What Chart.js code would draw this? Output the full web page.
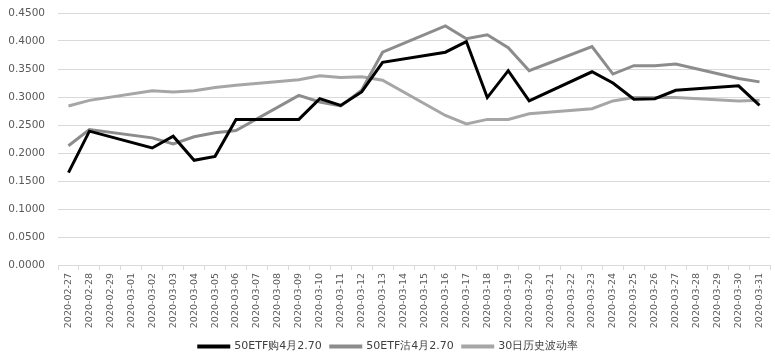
<!DOCTYPE html>
<html>
<head>
<meta charset="utf-8">
<script src="https://cdn.jsdelivr.net/npm/chart.js@4/dist/chart.umd.min.js"></script>
<style>
  html, body { margin: 0; padding: 0; background: #fff; }
  canvas { display: block; }
</style>
</head>
<body>
<canvas id="grafico" width="775" height="362"></canvas>
<script>
// Fechas (días naturales; fines de semana sin dato)
const fechas = [
    '2020-02-27', '2020-02-28', '2020-02-29', '2020-03-01', '2020-03-02', '2020-03-03',
    '2020-03-04', '2020-03-05', '2020-03-06', '2020-03-07', '2020-03-08', '2020-03-09',
    '2020-03-10', '2020-03-11', '2020-03-12', '2020-03-13', '2020-03-14', '2020-03-15',
    '2020-03-16', '2020-03-17', '2020-03-18', '2020-03-19', '2020-03-20', '2020-03-21',
    '2020-03-22', '2020-03-23', '2020-03-24', '2020-03-25', '2020-03-26', '2020-03-27',
    '2020-03-28', '2020-03-29', '2020-03-30', '2020-03-31'
];

// 50ETF购4月2.70
const compra = [
    0.165, 0.239, null, null, 0.209, 0.230, 0.187, 0.194, 0.260, null, null, 0.260,
    0.297, 0.285, 0.309, 0.362, null, null, 0.380, 0.399, 0.299, 0.347, 0.293, null,
    null, 0.345, 0.325, 0.296, 0.297, 0.312, null, null, 0.320, 0.285
];

// 50ETF沽4月2.70
const venta = [
    0.213, 0.242, null, null, 0.227, 0.216, 0.229, 0.236, 0.240, null, null, 0.303,
    0.291, 0.284, 0.312, 0.380, null, null, 0.427, 0.404, 0.411, 0.388, 0.347, null,
    null, 0.390, 0.341, 0.356, 0.356, 0.359, null, null, 0.333, 0.327
];

// 30日历史波动率
const volHistorica = [
    0.284, 0.294, null, null, 0.311, 0.309, 0.311, 0.317, 0.321, null, null, 0.331,
    0.338, 0.335, 0.336, 0.330, null, null, 0.267, 0.252, 0.260, 0.260, 0.270, null,
    null, 0.279, 0.293, 0.299, 0.299, 0.299, null, null, 0.293, 0.294
];

const nombres = ['50ETF购4月2.70', '50ETF沽4月2.70', '30日历史波动率'];
const colores = ['#000000', '#8c8c8c', '#a6a6a6'];

function serie(idx, datos) {
    return {
        label: nombres[idx],
        data: datos,
        borderColor: colores[idx],
        backgroundColor: colores[idx],
        borderWidth: 3,
        pointRadius: 0,
        tension: 0,
        spanGaps: true,
        order: idx // negro encima
    };
}

const ctx = document.getElementById('grafico').getContext('2d');

new Chart(ctx, {
    type: 'line',
    data: {
        labels: fechas,
        datasets: [serie(0, compra), serie(1, venta), serie(2, volHistorica)]
    },
    options: {
        responsive: false,
        animation: false,
        layout: { padding: { left: 7, right: 5, top: 13, bottom: 0 } },
        plugins: {
            legend: {
                position: 'bottom',
                labels: {
                    boxWidth: 30,
                    boxHeight: 1,
                    padding: 9,
                    color: '#404040',
                    font: { family: 'DejaVu Sans', size: 11 }
                }
            },
            tooltip: { enabled: false }
        },
        scales: {
            x: {
                offset: true,
                afterFit: escala => {
                    escala.height = 67;
                    escala.paddingLeft = 0;
                    escala.paddingRight = 0;
                },
                grid: {
                    offset: true,
                    drawOnChartArea: false,
                    drawTicks: true,
                    tickLength: 5,
                    color: '#d9d9d9'
                },
                border: { display: true, color: '#d9d9d9' },
                ticks: {
                    autoSkip: false,
                    minRotation: 90,
                    maxRotation: 90,
                    padding: 3,
                    color: '#595959',
                    font: { family: 'DejaVu Sans', size: 9.5 }
                }
            },
            y: {
                min: 0,
                max: 0.45,
                afterFit: escala => {
                    escala.width = 51;
                    escala.paddingTop = 0;
                    escala.paddingBottom = 0;
                },
                grid: { color: '#d9d9d9', drawTicks: false },
                border: { display: false },
                ticks: {
                    stepSize: 0.05,
                    padding: 13,
                    color: '#595959',
                    font: { family: 'DejaVu Sans', size: 10.5 },
                    callback: v => Number(v).toFixed(4)
                }
            }
        }
    }
});
</script>
</body>
</html>
